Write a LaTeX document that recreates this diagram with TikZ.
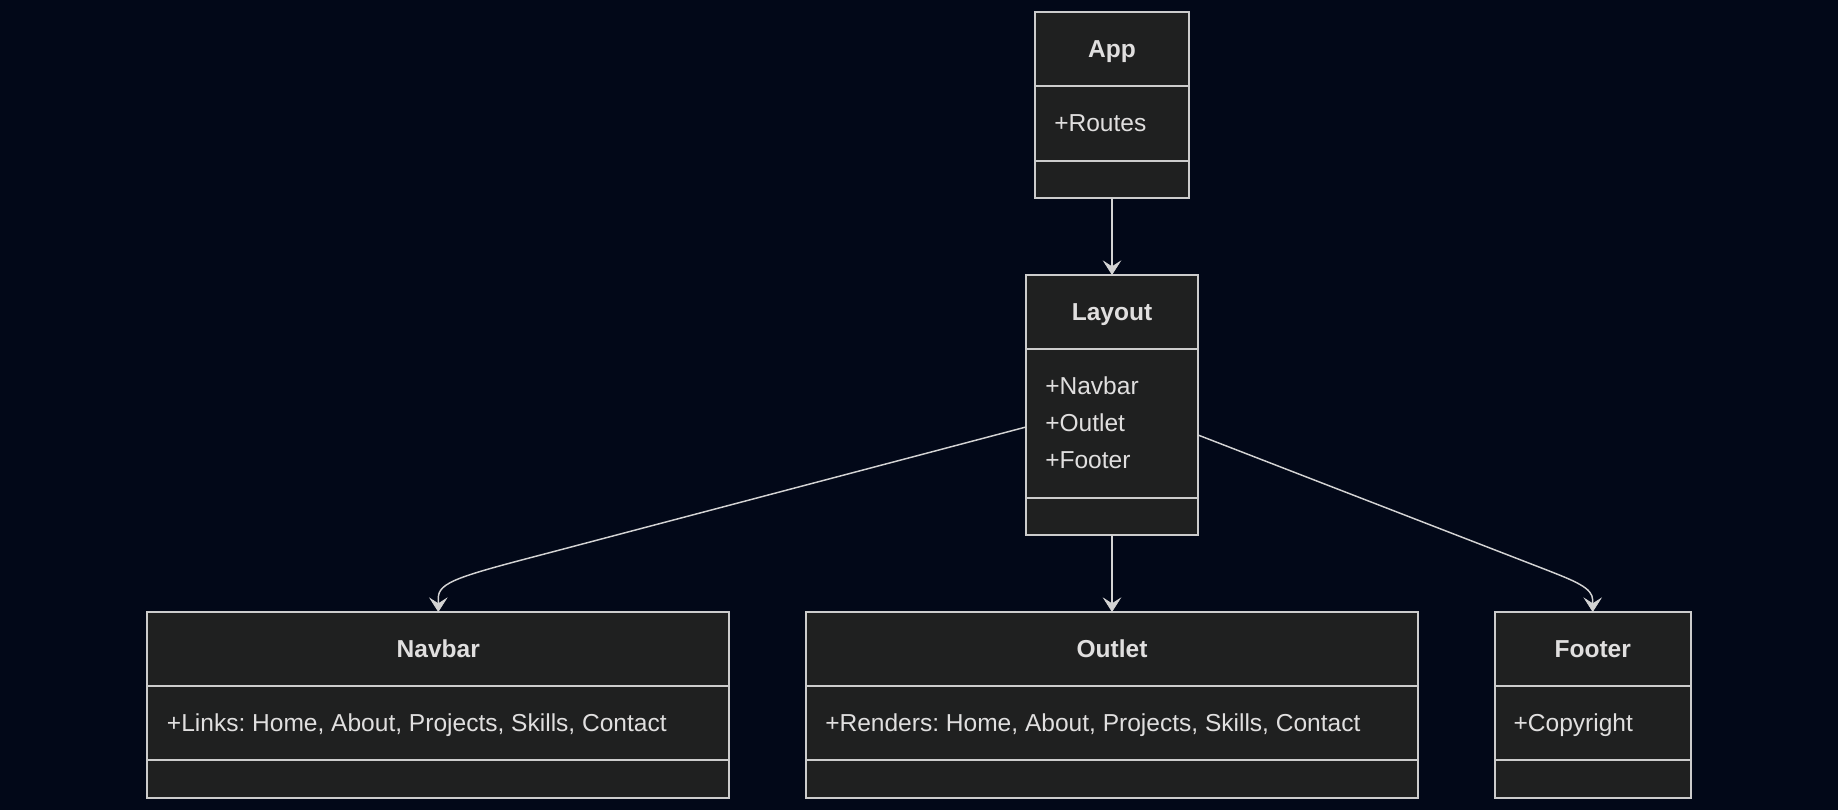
\documentclass[tikz,border=0pt]{standalone}
\usepackage{fontspec}
\setmainfont{Liberation Sans}
\usetikzlibrary{arrows.meta,calc,fit}
\definecolor{bg}{HTML}{020818}
\definecolor{boxfill}{HTML}{1F2020}
\definecolor{boxline}{HTML}{CCCCCC}
\definecolor{txt}{HTML}{E0DFDF}
\definecolor{edgecol}{HTML}{D3D3D3}
\tikzset{
  cls/.style={draw=boxline, fill=boxfill, line width=1.4pt, inner sep=0pt, outer sep=0pt},
  divider/.style={draw=boxline, line width=1.4pt},
  titletext/.style={text=txt, inner sep=0pt, anchor=base, font=\fontsize{18.4}{22}\selectfont\bfseries},
  attrtext/.style={text=txt, inner sep=0pt, anchor=base west, font=\fontsize{18.4}{22}\selectfont},
  edge/.style={draw=edgecol, line width=1.1pt, -{Stealth[length=11pt, width=14pt, inset=4.5pt, line width=0.6pt]}},
}
\newcommand{\umlbox}[8]{%
  \node[cls, fit={(#2,#4) (#3,#7)}] (#1) {};
  \draw[divider] (#2,#5) -- (#3,#5);
  \draw[divider] (#2,#6) -- (#3,#6);
  \node[titletext] (#1-title) at ({(#2+#3)/2},{(#4+#5)/2+8}) {#8};
}
\frenchspacing
\begin{document}
\begin{tikzpicture}[x=0.75pt, y=-0.75pt]
\fill[bg] (0,0) rectangle (1838,810);
\useasboundingbox (0,0) rectangle (1838,810);

\umlbox{app}{1035}{1189}{12}{86.3}{160.7}{198}{App}
\node[attrtext] (app-a1) at (1054,131.5) {+Routes};

\umlbox{layout}{1026}{1198}{275}{349}{497.7}{535}{Layout}
\node[attrtext] (layout-a1) at (1045,394) {+Navbar};
\node[attrtext] (layout-a2) at (1045,431) {+Outlet};
\node[attrtext] (layout-a3) at (1045,468) {+Footer};

\umlbox{navbar}{147.3}{729.3}{612}{686}{760.3}{797.7}{Navbar}
\node[attrtext] (navbar-a1) at (166.7,731) {+Links: Home, About, Projects, Skills, Contact};

\umlbox{outlet}{806}{1418}{612}{686}{760.3}{797.7}{Outlet}
\node[attrtext] (outlet-a1) at (825,731) {+Renders: Home, About, Projects, Skills, Contact};

\umlbox{footer}{1494.7}{1690.7}{612}{686}{760.3}{797.7}{Footer}
\node[attrtext] (footer-a1) at (1513.3,731) {+Copyright};

\draw[edge] (app.south) -- (layout.north);
\draw[edge] (layout.south) -- (outlet.north);
\draw[edge] ($(layout.west)+(0,22)$) -- ($(navbar.north)+(110,-59)$)
  .. controls ($(navbar.north)+(22,-36)$) and ($(navbar.north)+(0,-30)$) .. ($(navbar.north)+(0,-14)$)
  -- (navbar.north);
\draw[edge] ($(layout.east)+(0,30)$) -- ($(footer.north)+(-46,-42)$)
  .. controls ($(footer.north)+(-18,-31)$) and ($(footer.north)+(0,-24)$) .. ($(footer.north)+(0,-12)$)
  -- (footer.north);
\end{tikzpicture}
\end{document}
